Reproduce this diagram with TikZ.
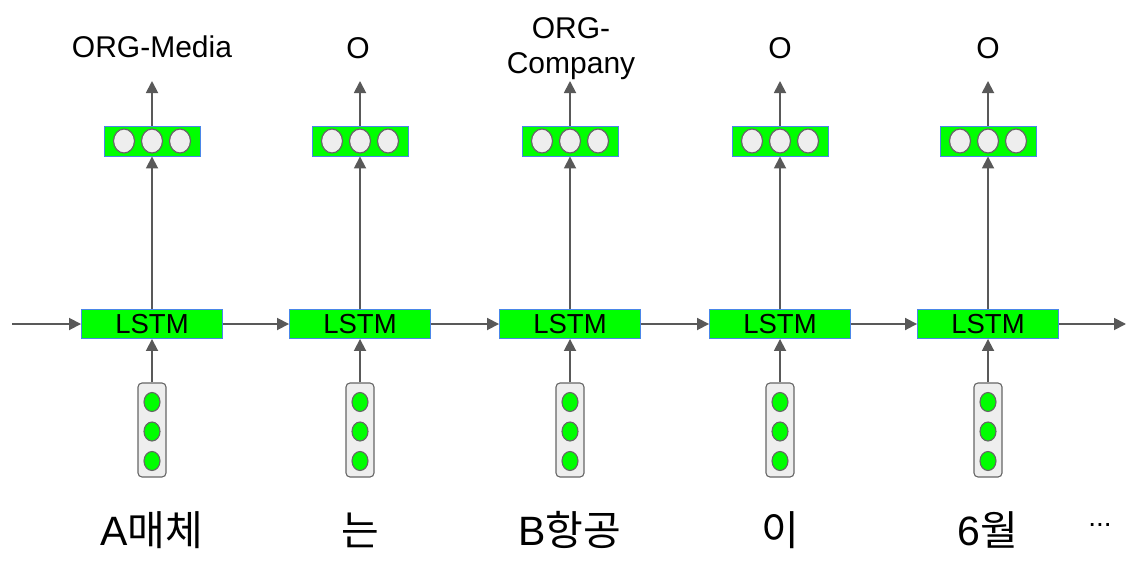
\documentclass[tikz,border=0pt]{standalone}
\usepackage{fontspec}
\setmainfont{Liberation Sans}
\newfontfamily\krfont{Noto Sans CJK KR}
\usetikzlibrary{arrows.meta,shapes.geometric}
\definecolor{boxgreen}{HTML}{00FF00}
\definecolor{boxblue}{HTML}{4A86E8}
\definecolor{cellgray}{HTML}{EEEEEE}
\definecolor{linegray}{HTML}{666666}
\definecolor{arrowgray}{HTML}{595959}
\tikzset{
  lstmbox/.style={draw=boxblue, line width=0.9pt, fill=boxgreen, minimum width=141pt, minimum height=29pt, inner sep=0pt, font=\fontsize{27.5}{30}\selectfont},
  outbox/.style={draw=boxblue, line width=0.9pt, fill=boxgreen, minimum width=96pt, minimum height=30pt, inner sep=0pt},
  outcell/.style={draw=linegray, line width=1.2pt, fill=cellgray, ellipse, minimum width=21pt, minimum height=24pt, inner sep=0pt},
  inbox/.style={draw=linegray, line width=1.1pt, fill=cellgray, rounded corners=4pt, minimum width=28pt, minimum height=94pt, inner sep=0pt},
  incell/.style={draw=linegray, line width=1.1pt, fill=boxgreen, ellipse, minimum width=16pt, minimum height=19pt, inner sep=0pt},
  conn/.style={draw=arrowgray, line width=1.8pt, -{Triangle[length=12pt,width=12pt]}},
  toplabel/.style={font=\fontsize{30}{35}\selectfont, align=center, inner sep=0pt},
  wordlabel/.style={font=\fontsize{41}{46}\selectfont, inner sep=0pt}
}
\begin{document}
\begin{tikzpicture}[x=1pt,y=-1pt]
\useasboundingbox (0,0) rectangle (1137,586);
\foreach \i/\cx/\lab/\ly/\word in {
  1/152/{ORG-Media}/47/{A{\krfont 매체}},
  2/358/{O}/48/{{\krfont 는}},
  3/571/{ORG-\\Company}/49/{B{\krfont 항공}},
  4/780/{O}/48/{{\krfont 이}},
  5/988/{O}/48/{6{\krfont 월}}}{
  \pgfmathsetmacro{\bx}{\i==2 ? 360 : (\i==3 ? 570 : \cx)}
  \node[lstmbox] (lstm\i) at (\bx,324) {LSTM};
  \node[outbox] (out\i) at (\bx,141) {};
  \node[outcell] (oc\i a) at (\bx-28,141) {};
  \node[outcell] (oc\i b) at (\bx,141) {};
  \node[outcell] (oc\i c) at (\bx+28,141) {};
  \node[inbox] (inp\i) at (\bx,430) {};
  \node[incell] (ic\i a) at (\bx,402) {};
  \node[incell] (ic\i b) at (\bx,431.5) {};
  \node[incell] (ic\i c) at (\bx,461) {};
  \coordinate (tip\i) at (\bx,81);
  \node[toplabel] (lab\i) at (\cx,\ly) {\lab};
  \node[wordlabel] (word\i) at (\bx,530) {\word};
  \draw[conn] (lstm\i.north) -- (out\i.south);
  \draw[conn] (out\i.north) -- (tip\i);
  \draw[conn] (inp\i.north) -- (lstm\i.south);
}
\coordinate (start) at (12,324);
\coordinate (end) at (1126,324);
\draw[conn] (start) -- (lstm1.west);
\draw[conn] (lstm1.east) -- (lstm2.west);
\draw[conn] (lstm2.east) -- (lstm3.west);
\draw[conn] (lstm3.east) -- (lstm4.west);
\draw[conn] (lstm4.east) -- (lstm5.west);
\draw[conn] (lstm5.east) -- (end);
\node[font=\fontsize{28}{30}\selectfont, inner sep=0pt, anchor=base] (dots) at (1100,526) {...};
\end{tikzpicture}
\end{document}
